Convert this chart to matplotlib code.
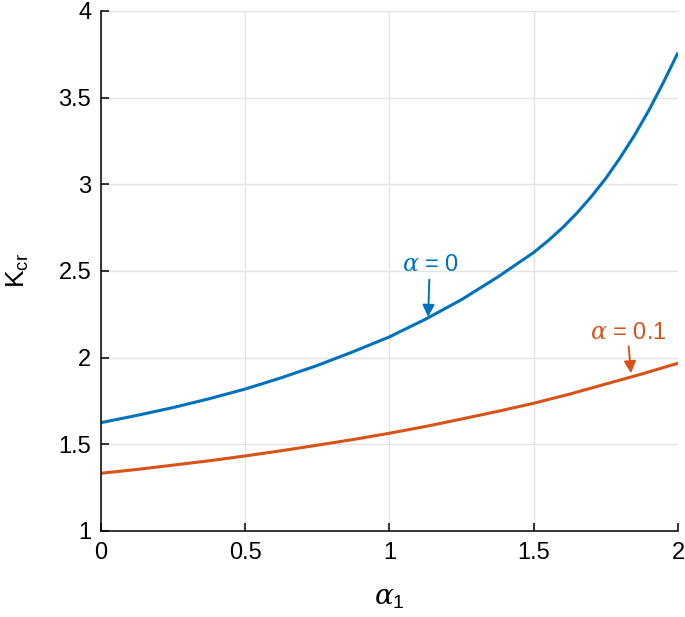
import matplotlib
matplotlib.use("Agg")
import matplotlib.pyplot as plt

# values
alpha1_blue = [0, 0.125, 0.25, 0.375, 0.5, 0.625, 0.75, 0.875, 1.0, 1.125, 1.25,
               1.375, 1.5, 1.55, 1.6, 1.65, 1.7, 1.75, 1.8, 1.85, 1.9, 1.95, 2.0]
kcr_blue = [1.625, 1.667, 1.712, 1.763, 1.819, 1.884, 1.955, 2.035, 2.12, 2.222, 2.335,
            2.465, 2.607, 2.675, 2.75, 2.835, 2.93, 3.035, 3.155, 3.285, 3.43, 3.59, 3.76]

alpha1_orange = [0, 0.125, 0.25, 0.375, 0.5, 0.625, 0.75, 0.875, 1.0, 1.125, 1.25,
                 1.375, 1.5, 1.625, 1.75, 1.875, 2.0]
kcr_orange = [1.333, 1.355, 1.38, 1.405, 1.433, 1.463, 1.495, 1.528, 1.564, 1.603, 1.646,
              1.69, 1.737, 1.79, 1.848, 1.906, 1.968]

xticks = [0, 0.5, 1, 1.5, 2]
xticklabels = ["0", "0.5", "1", "1.5", "2"]
yticks = [1, 1.5, 2, 2.5, 3, 3.5, 4]
yticklabels = ["1", "1.5", "2", "2.5", "3", "3.5", "4"]

blue = "#0072BD"
orange = "#D95319"

plt.rcParams['font.family'] = ['Liberation Sans', 'DejaVu Sans']
plt.rcParams['mathtext.fontset'] = 'custom'
plt.rcParams['mathtext.rm'] = 'Liberation Sans'
plt.rcParams['mathtext.it'] = 'DejaVu Serif:italic'

fig = plt.figure(figsize=(6.85, 6.17), dpi=100)
ax = fig.add_axes([0.1474, 0.1394, 0.8424, 0.8428])

ax.plot(alpha1_blue, kcr_blue, color=blue, lw=2.2, solid_capstyle='butt')
ax.plot(alpha1_orange, kcr_orange, color=orange, lw=2.2, solid_capstyle='butt')

ax.set_xlim(0, 2)
ax.set_ylim(1, 4)
ax.set_xticks(xticks)
ax.set_xticklabels(xticklabels)
ax.set_yticks(yticks)
ax.set_yticklabels(yticklabels)
ax.tick_params(direction='in', length=6, width=1.1, labelsize=17, colors='#000000')
ax.tick_params(axis='y', pad=7)
ax.tick_params(axis='x', pad=8)

ax.grid(True, color='#e3e3e3', lw=1.0)
ax.set_axisbelow(True)
for side in ['top', 'right']:
    ax.spines[side].set_visible(False)
for side in ['left', 'bottom']:
    ax.spines[side].set_linewidth(1.1)

ax.set_xlabel(r'$\alpha_{\mathrm{1}}$', fontsize=20, labelpad=15)
ax.set_ylabel(r'$\mathrm{K}_{\mathrm{cr}}$', fontsize=19, labelpad=20)

# labels and arrows
ax.text(1.141, 2.535, r'$\alpha$ = 0', color=blue, fontsize=17, ha='center', va='center')
ax.annotate('', xy=(1.134, 2.235), xytext=(1.138, 2.45),
            arrowprops=dict(arrowstyle='-|>', color=blue, lw=1.4,
                            mutation_scale=18, shrinkA=0, shrinkB=0))
ax.text(1.828, 2.142, r'$\alpha$ = 0.1', color=orange, fontsize=17, ha='center', va='center')
ax.annotate('', xy=(1.837, 1.91), xytext=(1.829, 2.065),
            arrowprops=dict(arrowstyle='-|>', color=orange, lw=1.4,
                            mutation_scale=18, shrinkA=0, shrinkB=0))

fig.savefig("out.png", dpi=100)
